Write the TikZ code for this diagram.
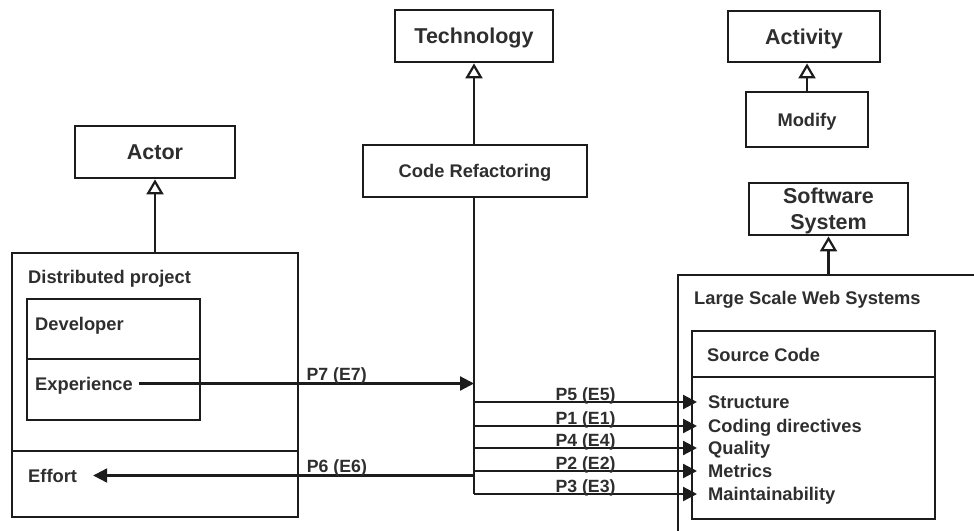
\documentclass[tikz,border=0pt]{standalone}
\usepackage{fontspec}
\setmainfont{Liberation Sans}
\usetikzlibrary{arrows.meta}
\definecolor{ink}{HTML}{1C1C1C}
\definecolor{txt}{HTML}{2E2E2E}
\begin{document}
\begin{tikzpicture}[x=1pt,y=-1pt,
  box/.style={draw=ink, line width=2.8pt, rectangle, inner sep=0pt,
    text=txt, text height=13.1pt, text depth=0pt,
    font=\bfseries\fontsize{18.3}{21}\selectfont},
  titlebox/.style={box, text height=15.4pt,
    font=\bfseries\fontsize{21.5}{25}\selectfont},
  frame/.style={draw=ink, line width=2.8pt, rectangle, inner sep=0pt},
  lbl/.style={inner sep=0pt, anchor=west, text=txt,
    text height=13pt, text depth=0pt,
    font=\bfseries\fontsize{18.3}{21}\selectfont},
  rel/.style={inner sep=0pt, anchor=base, yshift=2pt, text=txt,
    font=\bfseries\fontsize{17.7}{20}\selectfont},
  link/.style={draw=ink, line width=2.2pt,
    -{Triangle[length=14pt 0 0,width=14pt 0 0]}},
  plain/.style={draw=ink, line width=2.2pt},
  isa/.style={draw=ink, line width=2.2pt,
    -{Triangle[open,length=15pt 0 0,width=17pt 0 0,line width=2.2pt,fill=white]}}
]
\useasboundingbox (0,0) rectangle (974,530);

% class boxes
\node[titlebox, minimum width=158, minimum height=52] (tech) at (474,36) {Technology};
\node[box, minimum width=224, minimum height=52] (cr) at (475,171) {Code Refactoring};
\node[titlebox, minimum width=152, minimum height=51] (act) at (804,36.5) {Activity};
\node[box, minimum width=122, minimum height=55] (mod) at (807,119.5) {Modify};
\node[titlebox, minimum width=160, minimum height=52] (actor) at (155,152) {Actor};
\node[frame, minimum width=159, minimum height=52] (sws) at (828.5,209) {};
\node[align=center, inner sep=0pt, text=txt,
      font=\bfseries\fontsize{21.5}{25.5}\selectfont] (swst) at (828.5,211) {Software\\System};

% distributed project and its parts
\node[frame, minimum width=286, minimum height=198] (proj) at (155,352) {};
\node[frame, minimum width=286, minimum height=66] (effbox) at (155,484) {};
\node[frame, minimum width=173, minimum height=60] (devbox) at (113.5,329) {};
\node[frame, minimum width=173, minimum height=61] (expbox) at (113.5,389.5) {};
\node[lbl] (projt) at (28,276.5) {Distributed project};
\node[lbl] (dev) at (35,323.5) {Developer};
\node[lbl] (exp) at (35,383.5) {Experience};
\node[lbl] (eff) at (28,475.5) {Effort};

% large scale web systems (runs past the page edge)
\node[frame, minimum width=340, minimum height=300] (lsws) at (848,425) {};
\node[frame, minimum width=243, minimum height=46] (src) at (813.5,354) {};
\node[frame, minimum width=243, minimum height=142] (attrs) at (813.5,448) {};
\node[lbl] (lswst) at (694,297.5) {Large Scale Web Systems};
\node[lbl] (srct) at (707,354.5) {Source Code};
\node[lbl] (a1) at (708,402) {Structure};
\node[lbl] (a2) at (708,426) {Coding directives};
\node[lbl] (a3) at (708,448) {Quality};
\node[lbl] (a4) at (708,471) {Metrics};
\node[lbl] (a5) at (708,494) {Maintainability};

% generalisations
\draw[isa] (tech.south |- cr.north) -- (tech.south);
\draw[isa] (mod.north) -- (mod.north |- act.south);
\draw[isa] (proj.north) -- (actor.south);
\draw[isa] (sws.south |- lsws.north) -- (sws.south);

% relations
\draw[plain] (tech.south |- cr.south) -- (tech.south |- a5.west);
\draw[link] ([xshift=6pt]exp.east) -- node[rel, pos=0.59, yshift=1pt] {P7 (E7)} (tech.south |- exp.east);
\draw[link] (tech.south |- eff.east) -- node[rel, pos=0.36, yshift=1pt] {P6 (E6)} ([xshift=16pt]eff.east);
\draw[link] (tech.south |- a1.west) -- node[rel] {P5 (E5)} ([xshift=-11pt]a1.west);
\draw[link] (tech.south |- a2.west) -- node[rel] {P1 (E1)} ([xshift=-11pt]a2.west);
\draw[link] (tech.south |- a3.west) -- node[rel] {P4 (E4)} ([xshift=-11pt]a3.west);
\draw[link] (tech.south |- a4.west) -- node[rel] {P2 (E2)} ([xshift=-11pt]a4.west);
\draw[link] (tech.south |- a5.west) -- node[rel] {P3 (E3)} ([xshift=-11pt]a5.west);
\end{tikzpicture}
\end{document}
